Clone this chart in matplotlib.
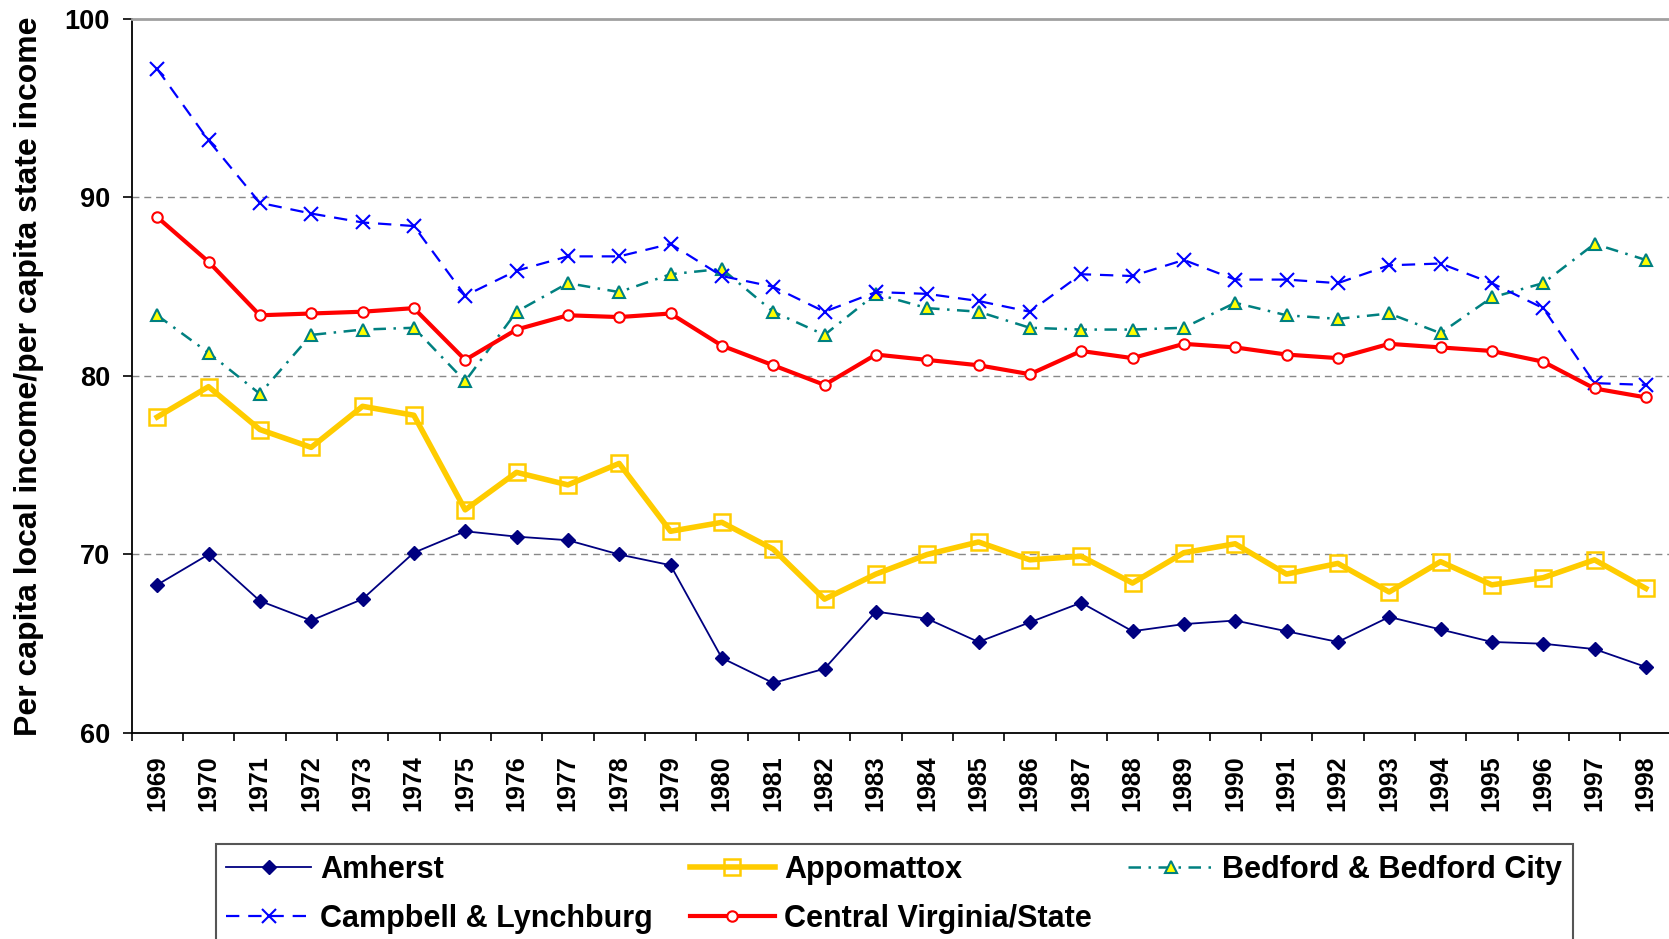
import matplotlib
matplotlib.use("Agg")
import matplotlib.pyplot as plt
import numpy as np

plt.rcParams['font.family'] = ['Liberation Sans', 'DejaVu Sans']
plt.rcParams['font.weight'] = 'bold'
plt.rcParams['axes.labelweight'] = 'bold'

years = [str(y) for y in range(1969, 1999)]

amherst = [68.3, 70.0, 67.4, 66.3, 67.5, 70.1, 71.3, 71.0, 70.8, 70.0,
           69.4, 64.2, 62.8, 63.6, 66.8, 66.4, 65.1, 66.2, 67.3, 65.7,
           66.1, 66.3, 65.7, 65.1, 66.5, 65.8, 65.1, 65.0, 64.7, 63.7]
appomattox = [77.7, 79.4, 77.0, 76.0, 78.3, 77.8, 72.5, 74.6, 73.9, 75.1,
              71.3, 71.8, 70.3, 67.5, 68.9, 70.0, 70.7, 69.7, 69.9, 68.4,
              70.1, 70.6, 68.9, 69.5, 67.9, 69.6, 68.3, 68.7, 69.7, 68.1]
bedford = [83.4, 81.3, 79.0, 82.3, 82.6, 82.7, 79.7, 83.6, 85.2, 84.7,
           85.7, 86.0, 83.6, 82.3, 84.6, 83.8, 83.6, 82.7, 82.6, 82.6,
           82.7, 84.1, 83.4, 83.2, 83.5, 82.4, 84.4, 85.2, 87.4, 86.5]
campbell = [97.2, 93.2, 89.7, 89.1, 88.6, 88.4, 84.5, 85.9, 86.7, 86.7,
            87.4, 85.6, 85.0, 83.6, 84.7, 84.6, 84.2, 83.6, 85.7, 85.6,
            86.5, 85.4, 85.4, 85.2, 86.2, 86.3, 85.2, 83.8, 79.6, 79.5]
central = [88.9, 86.4, 83.4, 83.5, 83.6, 83.8, 80.9, 82.6, 83.4, 83.3,
           83.5, 81.7, 80.6, 79.5, 81.2, 80.9, 80.6, 80.1, 81.4, 81.0,
           81.8, 81.6, 81.2, 81.0, 81.8, 81.6, 81.4, 80.8, 79.3, 78.8]

fig = plt.figure(figsize=(16.69, 9.39), dpi=100)
ax = fig.add_axes([0.0788, 0.2194, 0.9227, 0.7604])

x = np.arange(len(years))

l_amh, = ax.plot(x, amherst, color='#000080', lw=1.3, marker='D', ms=7.5,
                 label='Amherst')
l_app, = ax.plot(x, appomattox, color='#FFCC00', lw=4, marker='s', ms=12,
                 mfc='none', mec='#FFCC00', mew=1.8, label='Appomattox')
l_bed, = ax.plot(x, bedford, color='#008080', lw=1.8, dashes=(5, 3, 1, 3),
                 marker='^', ms=9, mfc='#FFFF00', mec='#008080', mew=1.5,
                 label='Bedford & Bedford City')
l_cam, = ax.plot(x, campbell, color='#0000FF', lw=1.6, dashes=(6, 4),
                 marker='x', ms=10, mew=1.5, label='Campbell & Lynchburg')
l_cen, = ax.plot(x, central, color='#FF0000', lw=3, marker='o', ms=7.5,
                 mfc='white', mec='#FF0000', mew=1.5,
                 label='Central Virginia/State')

ax.set_xlim(-0.5, len(years) - 0.5)
ax.set_ylim(60, 100)
ax.set_yticks([60, 70, 80, 90, 100])
ax.tick_params(axis='y', labelsize=19.5, length=6.5, width=1.2, pad=9, direction='out')

# ticks between categories, labels at the centres
ax.set_xticks(np.arange(len(years) + 1) - 0.5)
ax.set_xticklabels([])
ax.tick_params(axis='x', which='major', length=5.5, width=1.2, direction='out')
ax.set_xticks(x, minor=True)
ax.set_xticklabels(years, minor=True, rotation=90, fontsize=18)
ax.tick_params(axis='x', which='minor', length=0, pad=16)

for yv in [70, 80, 90]:
    ax.axhline(yv, color='#888888', lw=1, dashes=(5, 3.5), zorder=0)

ax.spines['top'].set_color('#A0A0A0')
ax.spines['top'].set_linewidth(2)
ax.spines['right'].set_visible(False)
ax.spines['left'].set_linewidth(1.3)
ax.spines['bottom'].set_linewidth(1.3)

ax.set_ylabel('Per capita local income/per capita state income', fontsize=23,
              fontweight='bold', ha='center', va='center')
ax.yaxis.set_label_coords(0.0174, 0.5996, transform=fig.transFigure)

leg = fig.legend([l_amh, l_cam, l_app, l_cen, l_bed],
                 ['Amherst', 'Campbell & Lynchburg', 'Appomattox',
                  'Central Virginia/State', 'Bedford & Bedford City'],
                 ncol=3, loc='upper left', bbox_to_anchor=(0.1292, 0.1012),
                 fontsize=22, frameon=True, fancybox=False, framealpha=1,
                 edgecolor='#555555', borderpad=0.35, handlelength=2.78,
                 handletextpad=0.3, labelspacing=0.62, columnspacing=1.2,
                 numpoints=1, borderaxespad=0)
leg.get_frame().set_linewidth(1.5)

fig.savefig('out.png', dpi=100)
